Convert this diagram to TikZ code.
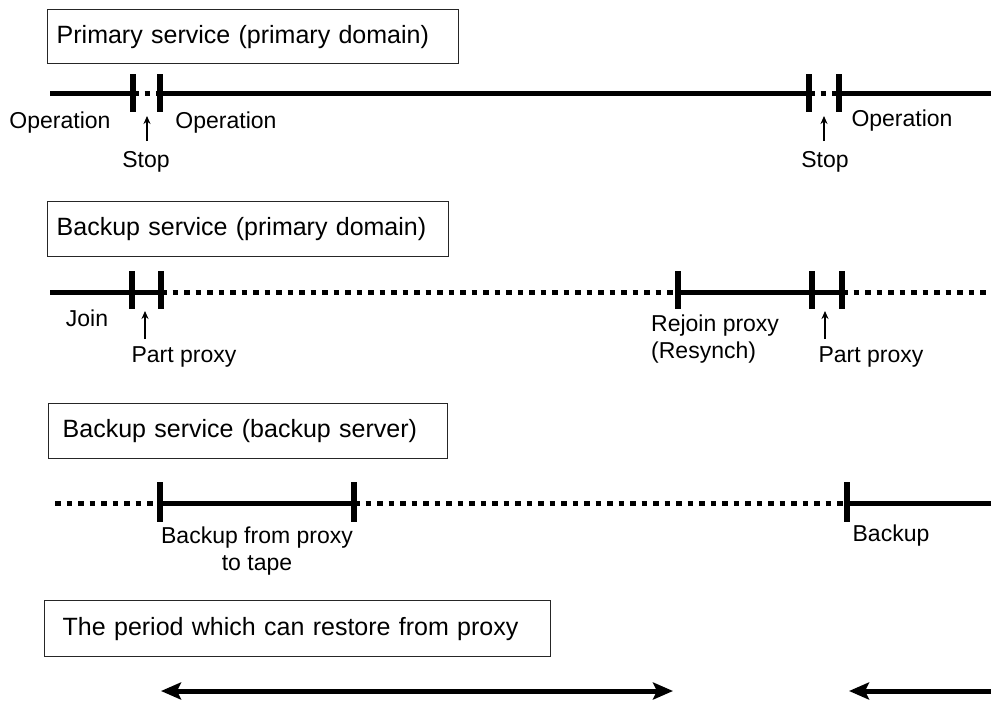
\documentclass[tikz,border=0pt]{standalone}
\usepackage{fontspec}
\setmainfont{Liberation Sans}
\usetikzlibrary{arrows.meta}
\tikzset{
  titlebox/.style={draw=black!85, line width=1.4pt, anchor=north west, inner xsep=9pt, align=left, font=\fontsize{25}{30}\selectfont},
  note/.style={font=\fontsize{23}{27}\selectfont, inner sep=0pt, align=center},
  busy/.style={line width=5pt},
  idle/.style={line width=5pt, dash pattern=on 5.5pt off 6pt},
  tickmark/.style={line width=6pt},
  pointer/.style={-{Stealth[length=8pt,width=7pt]}, line width=1.8pt},
  period/.style={line width=5pt, {Stealth[length=20pt,width=17pt,inset=4pt]}-{Stealth[length=20pt,width=17pt,inset=4pt]}},
  halfperiod/.style={line width=5pt, -{Stealth[length=20pt,width=17pt,inset=4pt]}}
}

\begin{document}
\begin{tikzpicture}[x=1pt, y=-1pt]
    \useasboundingbox (0,0) rectangle (991,702);

    % title boxes
    \node[titlebox, minimum height=54pt, text width=393pt] (primary) at (47,9) {Primary service (primary domain)};
    \node[titlebox, minimum height=55pt, text width=383pt] (backup) at (47,201) {Backup service (primary domain)};
    \node[titlebox, minimum height=55pt, inner xsep=14pt, text width=371pt] (server) at (48,403) {Backup service (backup server)};
    \node[titlebox, minimum height=56pt, inner xsep=18pt, text width=470pt] (restore) at (44,600) {The period which can restore from proxy};

    % primary service line
    \coordinate (a0) at (50,93);
    \coordinate (a1) at (133,93);
    \coordinate (a2) at (160,93);
    \coordinate (a3) at (809,93);
    \coordinate (a4) at (839,93);
    \coordinate (a5) at (991,93);
    \draw[busy] (a0) -- (a1);
    \draw[idle] (a1) -- (a2);
    \draw[busy] (a2) -- (a3);
    \draw[idle] (a3) -- (a4);
    \draw[busy] (a4) -- (a5);
    \foreach \c in {a1,a2,a3,a4}
      \draw[tickmark] ([yshift=19pt]\c) -- ([yshift=-19pt]\c);

    \node[note] (op1) at (60,123) {Operation};
    \node[note] (op2) at (226,123) {Operation};
    \node[note] (op3) at (902,121) {Operation};
    \node[note] (stop1) at (146,162) {Stop};
    \node[note] (stop2) at (825,162) {Stop};
    \coordinate (sa1) at (147,141);
    \coordinate (sb1) at (147,116);
    \coordinate (sa2) at (824,141);
    \coordinate (sb2) at (824,116);
    \draw[pointer] (sa1) -- (sb1);
    \draw[pointer] (sa2) -- (sb2);

    % backup service (primary domain) line
    \coordinate (b0) at (50,292);
    \coordinate (b1) at (132,292);
    \coordinate (b2) at (161,292);
    \coordinate (b3) at (678,292);
    \coordinate (b4) at (812,292);
    \coordinate (b5) at (842,292);
    \coordinate (b6) at (991,292);
    \draw[busy] (b0) -- (b1) -- (b2);
    \draw[idle] (b2) -- (b3);
    \draw[busy] (b3) -- (b4) -- (b5);
    \draw[idle] (b5) -- (b6);
    \foreach \c in {b1,b2,b3,b4,b5}
      \draw[tickmark] ([yshift=21pt]\c) -- ([yshift=-17pt]\c);

    \node[note] (join) at (87,318) {Join};
    \node[note] (part1) at (184,357) {Part proxy};
    \node[note, anchor=west, align=left] (rejoin) at (651,339) {Rejoin proxy\\(Resynch)};
    \node[note] (part2) at (871,357) {Part proxy};
    \coordinate (pa1) at (145,339);
    \coordinate (pb1) at (145,311);
    \coordinate (pa2) at (825,339);
    \coordinate (pb2) at (825,311);
    \draw[pointer] (pa1) -- (pb1);
    \draw[pointer] (pa2) -- (pb2);

    % backup server line
    \coordinate (c0) at (55,503);
    \coordinate (c1) at (160,503);
    \coordinate (c2) at (354,503);
    \coordinate (c3) at (847,503);
    \coordinate (c4) at (991,503);
    \draw[idle] (c0) -- (c1);
    \draw[busy] (c1) -- (c2);
    \draw[idle] (c2) -- (c3);
    \draw[busy] (c3) -- (c4);
    \foreach \c in {c1,c2,c3}
      \draw[tickmark] ([yshift=21pt]\c) -- ([yshift=-19pt]\c);

    \node[note] (tape) at (257,551) {Backup from proxy\\to tape};
    \node[note] (bk) at (891,536) {Backup};

    % restore periods
    \coordinate (r0) at (161,691);
    \coordinate (r1) at (673,691);
    \coordinate (r2) at (849,691);
    \coordinate (r3) at (991,691);
    \draw[period] (r0) -- (r1);
    \draw[halfperiod] (r3) -- (r2);
  \end{tikzpicture}
\end{document}
